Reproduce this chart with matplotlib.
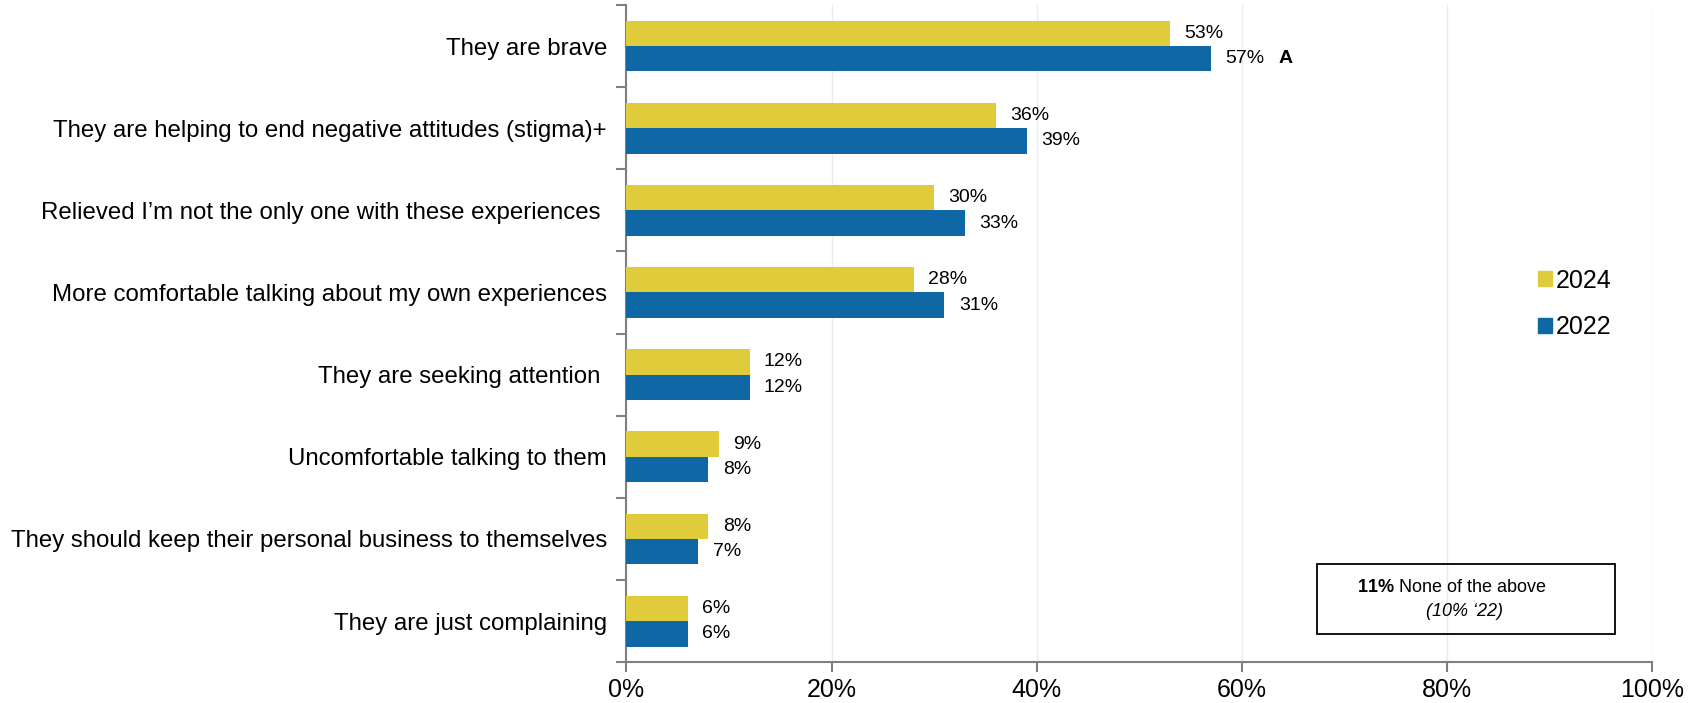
import matplotlib
matplotlib.use('Agg')
import matplotlib.pyplot as plt
from matplotlib.patches import Patch, Rectangle
import numpy as np

plt.rcParams['font.family'] = ['Liberation Sans', 'DejaVu Sans']
plt.rcParams['mathtext.fontset'] = 'custom'
plt.rcParams['mathtext.rm'] = 'Liberation Sans'
plt.rcParams['mathtext.bf'] = 'Liberation Sans:bold'

# survey responses, top to bottom
categories = [
    "They are brave",
    "They are helping to end negative attitudes (stigma)+",
    "Relieved I\u2019m not the only one with these experiences ",
    "More comfortable talking about my own experiences",
    "They are seeking attention ",
    "Uncomfortable talking to them",
    "They should keep their personal business to themselves",
    "They are just complaining",
]
vals_2024 = [53, 36, 30, 28, 12, 9, 8, 6]
vals_2022 = [57, 39, 33, 31, 12, 8, 7, 6]
flags_2022 = ["A", "", "", "", "", "", "", ""]

c2024 = '#E0CC3A'
c2022 = '#0F67A5'

fig = plt.figure(figsize=(16.93, 7.03), dpi=100)
ax = fig.add_axes([0.370, 0.058, 0.606, 0.935])

n = len(categories)
y = np.arange(n)
h = 0.31
ax.barh(y - h / 2, vals_2024, height=h, color=c2024, zorder=3)
ax.barh(y + h / 2, vals_2022, height=h, color=c2022, zorder=3)

for i in range(n):
    ax.text(vals_2024[i] + 1.4, y[i] - h / 2, f"{vals_2024[i]}%", va='center', ha='left', fontsize=14)
    ax.text(vals_2022[i] + 1.4, y[i] + h / 2, f"{vals_2022[i]}%", va='center', ha='left', fontsize=14)
    if flags_2022[i]:
        ax.text(vals_2022[i] + 6.6, y[i] + h / 2, flags_2022[i], va='center', ha='left',
                fontsize=14, fontweight='bold')

ax.set_ylim(n - 0.5, -0.5)
ax.set_xlim(0, 100)

ax.set_yticks(y)
ax.set_yticklabels(categories, fontsize=17.3)
ax.set_yticks(np.arange(-0.5, n, 1), minor=True)
ax.tick_params(axis='y', which='major', length=0, pad=14)
ax.tick_params(axis='y', which='minor', length=7, color='#808080', width=1.5)

ax.set_xticks(np.arange(0, 101, 20))
ax.set_xticklabels([f"{v}%" for v in range(0, 101, 20)], fontsize=18)
ax.tick_params(axis='x', length=7, color='#808080', width=1.5, pad=4)

ax.grid(axis='x', color='#EBEBEB', linewidth=1, zorder=0)
for s in ['top', 'right']:
    ax.spines[s].set_visible(False)
for s in ['left', 'bottom']:
    ax.spines[s].set_color('#808080')
    ax.spines[s].set_linewidth(1.5)

handles = [Patch(color=c2024, label='2024'), Patch(color=c2022, label='2022')]
ax.legend(handles=handles, loc='center left', bbox_to_anchor=(0.889, 0.545), frameon=False,
          borderaxespad=0, borderpad=0, fontsize=18, handlelength=0.55, handleheight=0.55,
          handletextpad=0.15, labelspacing=0.9)

# "none of the above" note
fig.patches.append(Rectangle(
    (1317 / 1693, 1 - 634 / 703), 298 / 1693, 70 / 703, transform=fig.transFigure,
    fill=False, edgecolor='black', linewidth=1.3))
fig.text(1452 / 1693, 1 - 587 / 703, r"$\mathbf{11\%}$ None of the above", ha='center', va='center', fontsize=13)
fig.text(1464 / 1693, 1 - 611 / 703, "(10% \u201822)", ha='center', va='center', fontsize=13, style='italic')

fig.savefig('out.png', dpi=100)
